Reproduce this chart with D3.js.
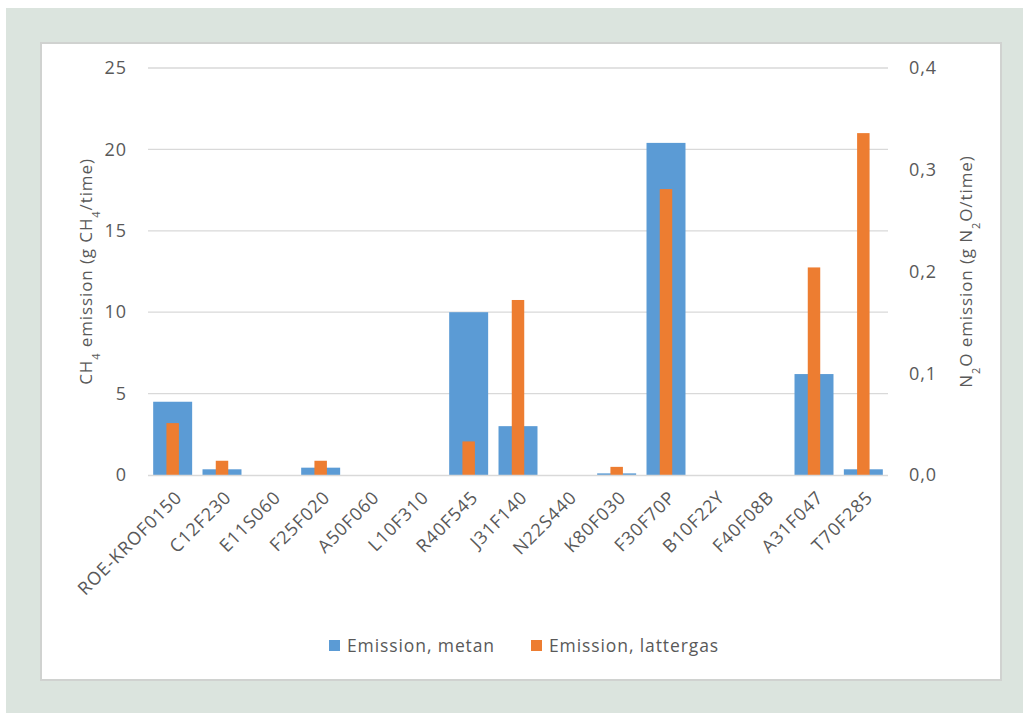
<!DOCTYPE html>
<html>
<head>
<meta charset="utf-8">
<script src="https://cdn.jsdelivr.net/npm/d3@7"></script>
<style>
  html, body { margin: 0; padding: 0; background: #ffffff; }
  svg { display: block; }
  text { font-family: "Open Sans", Lato, sans-serif; fill: #595959; letter-spacing: 0.9px; }
</style>
</head>
<body>
<svg id="chart" width="1023" height="713"></svg>
<script>
// Categories (sampling points) and the two emission series
const categories = ["ROE-KROF0150", "C12F230", "E11S060", "F25F020", "A50F060", "L10F310",
  "R40F545", "J31F140", "N22S440", "K80F030", "F30F70P", "B10F22Y", "F40F08B", "A31F047", "T70F285"];
// CH4 emission, g CH4/time (left axis)
const metan = [4.5, 0.35, 0, 0.45, 0, 0, 10.0, 3.0, 0, 0.1, 20.4, 0, 0, 6.2, 0.35];
// N2O emission, g N2O/time (right axis)
const lattergas = [0.051, 0.014, 0, 0.014, 0, 0, 0.033, 0.172, 0, 0.008, 0.281, 0, 0, 0.204, 0.336];
const leftTicks = [0, 5, 10, 15, 20, 25];
const rightTicks = [0, 0.1, 0.2, 0.3, 0.4];
const seriesNames = ["Emission, metan", "Emission, lattergas"];
const colors = ["#5b9bd5", "#ed7d31"];

const svg = d3.select("#chart");

// Outer frame and white chart panel
svg.append("rect").attr("x", 6).attr("y", 8).attr("width", 1017).attr("height", 705).attr("fill", "#dbe4de");
svg.append("rect").attr("x", 41).attr("y", 43).attr("width", 960).attr("height", 637)
  .attr("fill", "#ffffff").attr("stroke", "#d0d2d0").attr("stroke-width", 2);

const plot = { left: 148, right: 888, top: 68, bottom: 475 };

const x = d3.scaleBand().domain(categories).range([plot.left, plot.right]).paddingInner(0.21).paddingOuter(0.105);
const yL = d3.scaleLinear().domain([0, 25]).range([plot.bottom, plot.top]);
const yR = d3.scaleLinear().domain([0, 0.4]).range([plot.bottom, plot.top]);

// Gridlines
svg.append("g").selectAll("line").data(leftTicks.filter(d => d > 0)).join("line")
  .attr("x1", plot.left).attr("x2", plot.right)
  .attr("y1", d => yL(d)).attr("y2", d => yL(d))
  .attr("stroke", "#d9d9d9").attr("stroke-width", 1.3);

// Left axis
const leftAxis = svg.append("g").attr("transform", `translate(${plot.left},0)`)
  .call(d3.axisLeft(yL).tickValues(leftTicks).tickSize(0).tickPadding(21).tickFormat(d3.format("d")));
leftAxis.select(".domain").remove();
leftAxis.selectAll("text").style("font-size", "18px").attr("fill", "#595959");

// Right axis
const fmtR = d => d3.format(".1f")(d).replace(".", ",");
const rightAxis = svg.append("g").attr("transform", `translate(${plot.right},0)`)
  .call(d3.axisRight(yR).tickValues(rightTicks).tickSize(0).tickPadding(21).tickFormat(fmtR));
rightAxis.select(".domain").remove();
rightAxis.selectAll("text").style("font-size", "18px").attr("fill", "#595959");

// Metan bars (wide, left axis)
svg.append("g").selectAll("rect").data(categories).join("rect")
  .attr("x", d => x(d))
  .attr("width", x.bandwidth())
  .attr("y", (d, i) => yL(metan[i]))
  .attr("height", (d, i) => plot.bottom - yL(metan[i]))
  .attr("fill", colors[0]);

// Lattergas bars (narrow, right axis)
const narrow = x.bandwidth() * 0.32;
svg.append("g").selectAll("rect").data(categories).join("rect")
  .attr("x", d => x(d) + (x.bandwidth() - narrow) / 2)
  .attr("width", narrow)
  .attr("y", (d, i) => yR(lattergas[i]))
  .attr("height", (d, i) => plot.bottom - yR(lattergas[i]))
  .attr("fill", colors[1]);

// Baseline
svg.append("line").attr("x1", plot.left).attr("x2", plot.right)
  .attr("y1", plot.bottom + 0.5).attr("y2", plot.bottom + 0.5)
  .attr("stroke", "#d9d9d9").attr("stroke-width", 1.5);

// Category labels, rotated
svg.append("g").selectAll("text").data(categories).join("text")
  .attr("transform", d => `translate(${x(d) + x.bandwidth() / 2 + 6},${plot.bottom + 19}) rotate(-45)`)
  .attr("text-anchor", "end")
  .attr("dy", "0.35em")
  .style("font-size", "18px")
  .text(d => d);

// Axis titles
const lt = svg.append("text")
  .attr("transform", `translate(92,${(plot.top + plot.bottom) / 2}) rotate(-90)`)
  .attr("text-anchor", "middle")
  .style("font-size", "17px");
lt.append("tspan").text("CH");
lt.append("tspan").text("4").attr("baseline-shift", "sub").style("font-size", "11px");
lt.append("tspan").text(" emission (g CH");
lt.append("tspan").text("4").attr("baseline-shift", "sub").style("font-size", "11px");
lt.append("tspan").text("/time)");

const rt = svg.append("text")
  .attr("transform", `translate(972,${(plot.top + plot.bottom) / 2}) rotate(-90)`)
  .attr("text-anchor", "middle")
  .style("font-size", "17px");
rt.append("tspan").text("N");
rt.append("tspan").text("2").attr("baseline-shift", "sub").style("font-size", "11px");
rt.append("tspan").text("O emission (g N");
rt.append("tspan").text("2").attr("baseline-shift", "sub").style("font-size", "11px");
rt.append("tspan").text("O/time)");

// Legend
const legendX = [329, 531];
const lg = svg.append("g").selectAll("g").data(seriesNames).join("g")
  .attr("transform", (d, i) => `translate(${legendX[i]},640)`);
lg.append("rect").attr("width", 11).attr("height", 11).attr("fill", (d, i) => colors[i]);
lg.append("text").attr("x", 18).attr("y", 12).style("font-size", "17.5px").text(d => d);
</script>
</body>
</html>
